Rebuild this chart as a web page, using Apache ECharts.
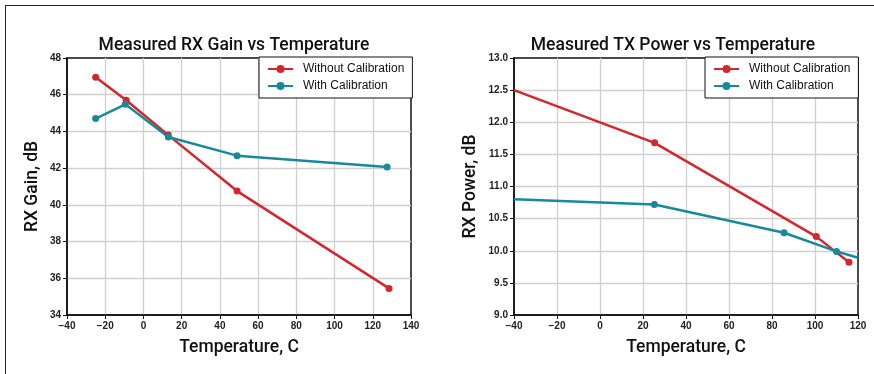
<!DOCTYPE html>
<html>
<head>
<meta charset="utf-8">
<script src="https://cdn.jsdelivr.net/npm/echarts@6/dist/echarts.min.js"></script>
<style>
  html, body { margin: 0; padding: 0; background: #fff; }
  #wrap { position: relative; width: 874px; height: 374px; overflow: hidden; }
  #frame { position: absolute; left: 5px; top: 5px; width: 900px; height: 400px;
           border-left: 1.5px solid #222; border-top: 1.5px solid #222; }
  #chart { position: absolute; left: 0; top: 0; width: 874px; height: 374px; }
</style>
</head>
<body>
<div id="wrap">
  <div id="frame"></div>
  <div id="chart"></div>
</div>
<script>
// RX gain vs temperature
const rxTempNoCal = [-25, -9, 13, 49, 128.5]
const rxGainNoCal = [46.95, 45.7, 43.8, 40.75, 35.45]
const rxTempCal = [-25, -9.5, 13, 49, 127.5]
const rxGainCal = [44.7, 45.48, 43.7, 42.68, 42.06]

// TX power vs temperature (end points sit on the axis edge)
const txTempNoCal = [-40, 25.4, 100.6, 115.8]
const txPowerNoCal = [12.5, 11.68, 10.22, 9.82]
const txTempCal = [-40, 25.3, 85.6, 110, 120]
const txPowerCal = [10.8, 10.72, 10.28, 9.99, 9.89]

const seriesNames = ['Without Calibration', 'With Calibration']
const titles = ['Measured RX Gain vs Temperature', 'Measured TX Power vs Temperature']
const xName = 'Temperature, C'
const yNames = ['RX Gain, dB', 'RX Power, dB']

const RED = '#d4262c'
const TEAL = '#178a99'
const FONT = '"Liberation Sans", Arial, sans-serif'
const HEAD = 'Roboto, "Liberation Sans", sans-serif'

const xRange = [[-40, 140], [-40, 120]]

const minus = v => String(v).replace('-', '\u2212')

function pts(xs, ys, range) {
  return xs.map((x, i) => {
    const item = { value: [x, ys[i]] }
    if (x <= range[0] || x >= range[1]) item.symbol = 'none'
    return item
  })
}

function lineSeries(name, color, idx, data) {
  return {
    name, type: 'line', xAxisIndex: idx, yAxisIndex: idx,
    data, symbol: 'circle', symbolSize: 7, clip: true,
    itemStyle: { color },
    lineStyle: { color, width: 2.5 },
    emphasis: { disabled: true }
  }
}

const axisCommon = {
  axisLine: { onZero: false, lineStyle: { color: '#111', width: 1.5 } },
  axisTick: { show: true, length: 4, lineStyle: { color: '#111', width: 1 } },
  splitLine: { show: true, showMinLine: false, showMaxLine: false, lineStyle: { color: '#cfcfcf', width: 1.3 } },
  axisLabel: { color: '#222', fontSize: 10, fontFamily: FONT, fontWeight: 'bold' },
  nameTextStyle: { color: '#111', fontSize: 17.5, fontFamily: HEAD, fontWeight: 500 },
  nameLocation: 'middle'
}

function xAxis(idx) {
  return Object.assign({}, axisCommon, {
    type: 'value', gridIndex: idx, min: xRange[idx][0], max: xRange[idx][1], interval: 20,
    name: xName, nameGap: 24,
    axisLabel: Object.assign({}, axisCommon.axisLabel, { margin: 6, formatter: v => minus(v) })
  })
}

const yAxes = [
  Object.assign({}, axisCommon, {
    type: 'value', gridIndex: 0, min: 34, max: 48, interval: 2,
    name: yNames[0], nameGap: 25,
    axisLabel: Object.assign({}, axisCommon.axisLabel, { margin: 6 })
  }),
  Object.assign({}, axisCommon, {
    type: 'value', gridIndex: 1, min: 9, max: 13, interval: 0.5,
    name: yNames[1], nameGap: 34,
    axisLabel: Object.assign({}, axisCommon.axisLabel, { margin: 6, formatter: v => v.toFixed(1) })
  })
]

function legend(left) {
  return {
    left, top: 57, orient: 'vertical',
    data: seriesNames,
    backgroundColor: '#fff', borderColor: '#111', borderWidth: 1, borderRadius: 0,
    padding: [6, 8, 6, 8], itemWidth: 25, itemHeight: 10, itemGap: 5,
    textStyle: { color: '#111', fontSize: 12, fontFamily: FONT, padding: [0, 0, 0, 5] },
    selectedMode: false, z: 10
  }
}

const chart = echarts.init(document.getElementById('chart'), null, { renderer: 'canvas' })

chart.setOption({
  animation: false,
  textStyle: { fontFamily: FONT },
  title: titles.map((t, i) => ({
    text: t, left: i === 0 ? 234 : 673, top: 37, textAlign: 'center', padding: 0,
    textStyle: { fontSize: 17.5, fontWeight: 500, color: '#111', fontFamily: HEAD }
  })),
  legend: [legend(259), legend(705)],
  grid: [
    { left: 67, top: 58, width: 344, height: 257, show: true, borderColor: '#111', borderWidth: 1.5, backgroundColor: 'transparent' },
    { left: 514, top: 58, width: 344, height: 257, show: true, borderColor: '#111', borderWidth: 1.5, backgroundColor: 'transparent' }
  ],
  xAxis: [xAxis(0), xAxis(1)],
  yAxis: yAxes,
  series: [
    lineSeries(seriesNames[0], RED, 0, pts(rxTempNoCal, rxGainNoCal, xRange[0])),
    lineSeries(seriesNames[1], TEAL, 0, pts(rxTempCal, rxGainCal, xRange[0])),
    lineSeries(seriesNames[0], RED, 1, pts(txTempNoCal, txPowerNoCal, xRange[1])),
    lineSeries(seriesNames[1], TEAL, 1, pts(txTempCal, txPowerCal, xRange[1]))
  ]
})
</script>
</body>
</html>
